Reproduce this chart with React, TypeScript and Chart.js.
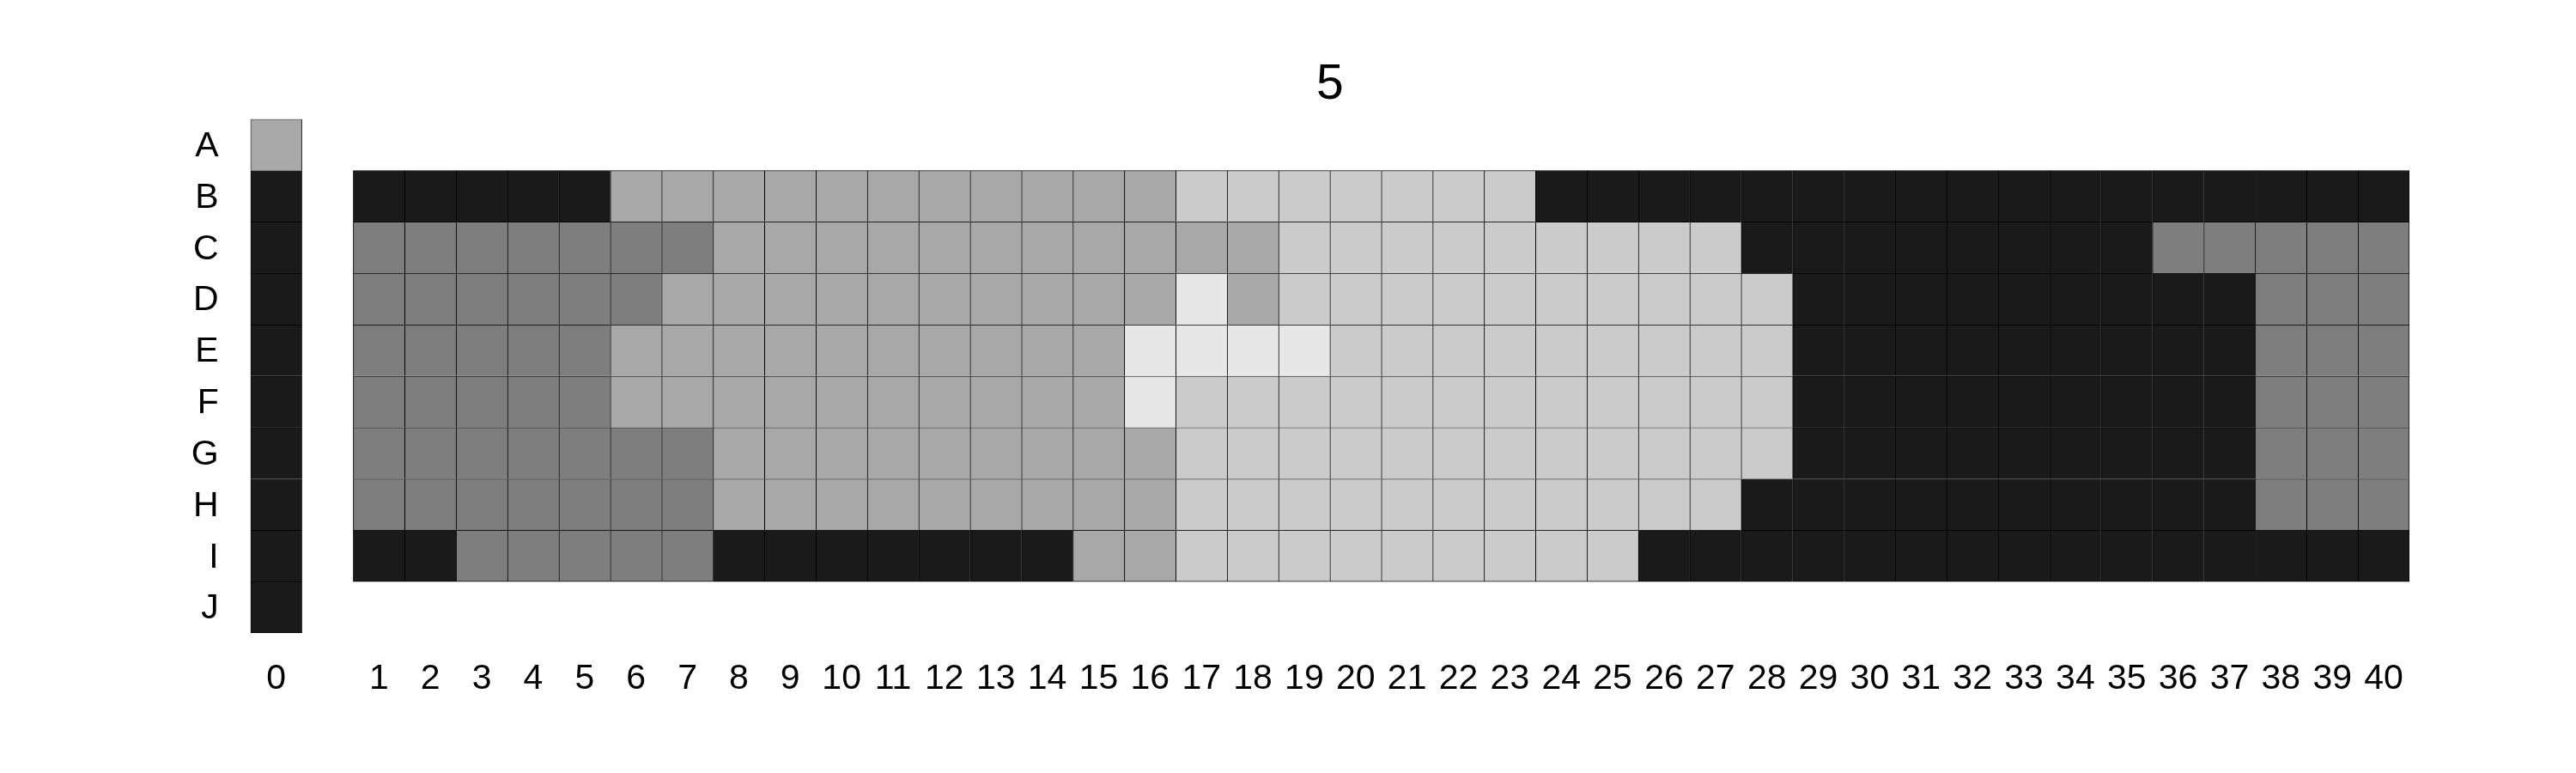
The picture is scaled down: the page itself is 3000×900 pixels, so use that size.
import { useEffect, useRef } from "react";
import { Chart, registerables } from "chart.js";

Chart.register(...registerables);

// ---- data ----
const titleText = "5";
const rowLabels = ["A", "B", "C", "D", "E", "F", "G", "H", "I", "J"];
const columnLabels = [
  "0", "",
  "1", "2", "3", "4", "5", "6", "7", "8", "9", "10",
  "11", "12", "13", "14", "15", "16", "17", "18", "19", "20",
  "21", "22", "23", "24", "25", "26", "27", "28", "29", "30",
  "31", "32", "33", "34", "35", "36", "37", "38", "39", "40",
];
// grey levels: 0 = near black, 1 = dark grey, 2 = mid grey, 3 = light grey, 4 = very light grey
const palette = ["#1a1a1a", "#7e7e7e", "#a8a8a8", "#cbcbcb", "#e7e7e7"];

// column 0, rows A..J
const column0 = [2, 0, 0, 0, 0, 0, 0, 0, 0, 0];

// columns 1..40, rows B..I
const rowB = [0, 0, 0, 0, 0, 2, 2, 2, 2, 2, 2, 2, 2, 2, 2, 2, 3, 3, 3, 3, 3, 3, 3, 0, 0, 0, 0, 0, 0, 0, 0, 0, 0, 0, 0, 0, 0, 0, 0, 0];
const rowC = [1, 1, 1, 1, 1, 1, 1, 2, 2, 2, 2, 2, 2, 2, 2, 2, 2, 2, 3, 3, 3, 3, 3, 3, 3, 3, 3, 0, 0, 0, 0, 0, 0, 0, 0, 1, 1, 1, 1, 1];
const rowD = [1, 1, 1, 1, 1, 1, 2, 2, 2, 2, 2, 2, 2, 2, 2, 2, 4, 2, 3, 3, 3, 3, 3, 3, 3, 3, 3, 3, 0, 0, 0, 0, 0, 0, 0, 0, 0, 1, 1, 1];
const rowE = [1, 1, 1, 1, 1, 2, 2, 2, 2, 2, 2, 2, 2, 2, 2, 4, 4, 4, 4, 3, 3, 3, 3, 3, 3, 3, 3, 3, 0, 0, 0, 0, 0, 0, 0, 0, 0, 1, 1, 1];
const rowF = [1, 1, 1, 1, 1, 2, 2, 2, 2, 2, 2, 2, 2, 2, 2, 4, 3, 3, 3, 3, 3, 3, 3, 3, 3, 3, 3, 3, 0, 0, 0, 0, 0, 0, 0, 0, 0, 1, 1, 1];
const rowG = [1, 1, 1, 1, 1, 1, 1, 2, 2, 2, 2, 2, 2, 2, 2, 2, 3, 3, 3, 3, 3, 3, 3, 3, 3, 3, 3, 3, 0, 0, 0, 0, 0, 0, 0, 0, 0, 1, 1, 1];
const rowH = [1, 1, 1, 1, 1, 1, 1, 2, 2, 2, 2, 2, 2, 2, 2, 2, 3, 3, 3, 3, 3, 3, 3, 3, 3, 3, 3, 0, 0, 0, 0, 0, 0, 0, 0, 0, 0, 1, 1, 1];
const rowI = [0, 0, 1, 1, 1, 1, 1, 0, 0, 0, 0, 0, 0, 0, 2, 2, 3, 3, 3, 3, 3, 3, 3, 3, 3, 0, 0, 0, 0, 0, 0, 0, 0, 0, 0, 0, 0, 0, 0, 0];
const mainRows = [rowB, rowC, rowD, rowE, rowF, rowG, rowH, rowI];

// level of cell (row r, category c) or null if no cell
function cellLevel(r: number, c: number): number | null {
  if (r < 0 || r >= rowLabels.length || c < 0 || c >= columnLabels.length) return null;
  if (c === 0) return column0[r];
  if (c === 1) return null;
  const mr = r - 1;
  if (mr < 0 || mr >= mainRows.length) return null;
  return mainRows[mr][c - 2];
}

const FONT = "'Liberation Sans', Arial, Helvetica, sans-serif";

export default function App() {
  const ref = useRef<HTMLCanvasElement | null>(null);

  useEffect(() => {
    document.body.style.margin = "0";
    const canvas = ref.current;
    if (!canvas) return;

    const datasets = rowLabels.map((label, r) => ({
      label,
      data: columnLabels.map((_, c) => (cellLevel(r, c) === null ? null : [r, r + 1])),
      backgroundColor: columnLabels.map((_, c) => {
        const lv = cellLevel(r, c);
        return lv === null ? "rgba(0,0,0,0)" : palette[lv];
      }),
      borderColor: "#000000",
      borderWidth: (ctx: any) => {
        const c = ctx.dataIndex;
        const rr = ctx.datasetIndex;
        return {
          top: 1,
          left: 1,
          right: cellLevel(rr, c + 1) === null ? 1 : 0,
          bottom: cellLevel(rr + 1, c) === null ? 1 : 0,
        };
      },
      borderSkipped: false,
      grouped: false,
      barPercentage: 1,
      categoryPercentage: 1,
    }));

    const chart = new Chart(canvas, {
      type: "bar",
      data: { labels: columnLabels, datasets: datasets as any },
      options: {
        responsive: false,
        animation: false,
        devicePixelRatio: 1,
        layout: { padding: { left: 0, right: 194, top: 0, bottom: 0 } },
        plugins: {
          legend: { display: false },
          tooltip: { enabled: false },
          title: {
            display: true,
            text: titleText,
            color: "#000000",
            fullSize: false,
            font: { family: FONT, size: 57, weight: "normal" },
            padding: { top: 65, bottom: 5.3 },
          },
        },
        scales: {
          x: {
            type: "category",
            offset: true,
            grid: { display: false, drawTicks: false },
            border: { display: false },
            ticks: {
              autoSkip: false,
              maxRotation: 0,
              minRotation: 0,
              padding: 29,
              color: "#000000",
              font: { family: FONT, size: 41 },
            },
            afterFit: (s: any) => {
              s.height = 163;
            },
          },
          y: {
            type: "linear",
            min: 0,
            max: rowLabels.length,
            reverse: true,
            grid: { display: false, drawTicks: false },
            border: { display: false },
            afterBuildTicks: (s: any) => {
              s.ticks = rowLabels.map((_, i) => ({ value: i + 0.5 }));
            },
            ticks: {
              padding: 37,
              labelOffset: 2,
              color: "#000000",
              font: { family: FONT, size: 41 },
              callback: (_v: any, i: number) => rowLabels[i],
            },
            afterFit: (s: any) => {
              s.width = 291.7;
            },
          },
        },
      } as any,
    });

    return () => chart.destroy();
  }, []);

  return (
    <div style={{ position: "absolute", left: 0, top: 0, width: 3000, height: 900, background: "#ffffff" }}>
      <canvas ref={ref} width={3000} height={900} style={{ width: 3000, height: 900, display: "block" }} />
    </div>
  );
}
